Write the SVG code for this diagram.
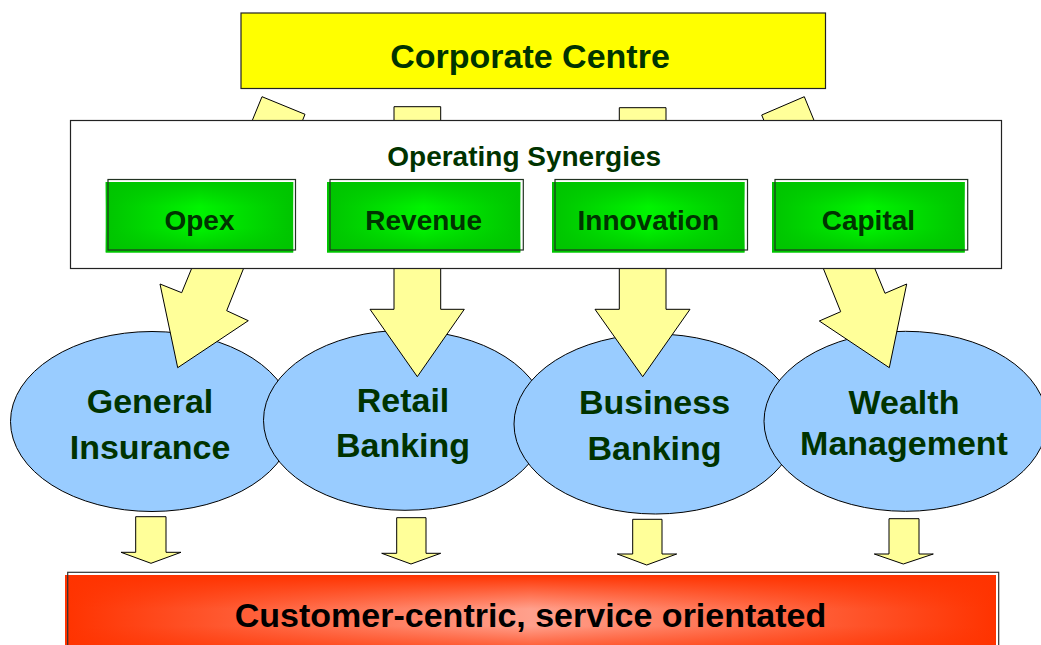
<svg xmlns="http://www.w3.org/2000/svg" width="1041" height="645" viewBox="0 0 1041 645">
  <style>
    .lbl { font-family: "Liberation Sans", Arial, sans-serif; font-weight: bold; text-anchor: middle; fill: #003300; }
    .unit { fill: #99CCFF; stroke: #000; stroke-width: 1; }
    .arrow { fill: #FFFF99; stroke: #000; stroke-width: 1; stroke-linejoin: miter; }
    .edge { fill: none; stroke: #223322; stroke-width: 1.2; }
  </style>
  <defs>
    <linearGradient id="greenH" x1="0" y1="0" x2="1" y2="0">
      <stop offset="0" stop-color="#00C400"/>
      <stop offset="0.5" stop-color="#00F400"/>
      <stop offset="1" stop-color="#00C400"/>
    </linearGradient>
    <linearGradient id="greenV" x1="0" y1="0" x2="0" y2="1">
      <stop offset="0" stop-color="#00C400" stop-opacity="0.9"/>
      <stop offset="0.35" stop-color="#00C400" stop-opacity="0"/>
      <stop offset="0.65" stop-color="#00C400" stop-opacity="0"/>
      <stop offset="1" stop-color="#00C400" stop-opacity="0.9"/>
    </linearGradient>
    <linearGradient id="redH" x1="0" y1="0" x2="1" y2="0">
      <stop offset="0" stop-color="#FF3300"/>
      <stop offset="0.5" stop-color="#FFA08C"/>
      <stop offset="1" stop-color="#FF3300"/>
    </linearGradient>
    <linearGradient id="redV" x1="0" y1="0" x2="0" y2="1">
      <stop offset="0" stop-color="#FF3300" stop-opacity="1"/>
      <stop offset="0.4" stop-color="#FF3300" stop-opacity="0"/>
      <stop offset="0.6" stop-color="#FF3300" stop-opacity="0"/>
      <stop offset="1" stop-color="#FF3300" stop-opacity="1"/>
    </linearGradient>
  </defs>

  <rect width="1041" height="645" fill="#FFFFFF"/>

  <!-- business units -->
  <g id="general-insurance">
    <ellipse class="unit" cx="152" cy="421.5" rx="141.5" ry="90"/>
    <text class="lbl" x="150" y="413.3" font-size="34">General</text>
    <text class="lbl" x="150" y="459" font-size="34">Insurance</text>
  </g>
  <g id="retail-banking">
    <ellipse class="unit" cx="405" cy="420.3" rx="141.5" ry="90"/>
    <text class="lbl" x="403" y="411.7" font-size="34">Retail</text>
    <text class="lbl" x="403" y="456.7" font-size="34">Banking</text>
  </g>
  <g id="business-banking">
    <ellipse class="unit" cx="655.5" cy="424" rx="141.5" ry="90"/>
    <text class="lbl" x="654.5" y="414" font-size="34">Business</text>
    <text class="lbl" x="654.5" y="460" font-size="34">Banking</text>
  </g>
  <g id="wealth-management">
    <ellipse class="unit" cx="905.5" cy="421.3" rx="141.5" ry="90"/>
    <text class="lbl" x="904" y="414" font-size="34">Wealth</text>
    <text class="lbl" x="904" y="455" font-size="34">Management</text>
  </g>

  <!-- block arrows -->
  <g id="connectors">
    <polygon class="arrow" points="262,96.7 305,114.3 226.7,310.7 248.3,320.7 177.7,367.7 160,284 181.7,292.7"/>
    <polygon class="arrow" points="394,106.7 440.7,106.7 440.7,309.3 464.3,309.3 417.3,376.7 370,309.3 394,309.3"/>
    <polygon class="arrow" points="619.3,107.7 666,107.7 666,309.3 690,309.3 642.7,376.7 595,309.3 619.3,309.3"/>
    <polygon class="arrow" points="804.3,96.7 885,293.3 906.7,284 889.3,367.7 819.3,321 840.7,311.7 761.7,115"/>

    <polygon class="arrow" points="135.7,516.7 166,516.7 166,552.3 181,552.3 151,563.3 121,552.3 135.7,552.3"/>
    <polygon class="arrow" points="396.7,517.7 426,517.7 426,553.3 440.7,553.3 411,564 381.7,553.3 396.7,553.3"/>
    <polygon class="arrow" points="632.7,519.3 662,519.3 662,554 676.7,554 646.7,565 617.3,554 632.7,554"/>
    <polygon class="arrow" points="889,518.7 919,518.7 919,554 933.3,554 903.3,564 874.3,554 889,554"/>
  </g>

  <!-- synergy panel -->
  <g id="operating-synergies">
    <rect x="70.5" y="120.5" width="931" height="148" fill="#FFFFFF" stroke="#222" stroke-width="1.2"/>
    <text class="lbl" x="524.2" y="166" font-size="28">Operating Synergies</text>
  </g>
  <g id="opex">
    <rect x="105.7" y="182" width="187.5" height="70.5" fill="url(#greenH)"/>
    <rect x="105.7" y="182" width="187.5" height="70.5" fill="url(#greenV)"/>
    <rect class="edge" x="108" y="179.5" width="187.5" height="70.5"/>
    <text class="lbl" x="199.5" y="230" font-size="28">Opex</text>
  </g>
  <g id="revenue">
    <rect x="327" y="182" width="193.3" height="70.5" fill="url(#greenH)"/>
    <rect x="327" y="182" width="193.3" height="70.5" fill="url(#greenV)"/>
    <rect class="edge" x="330" y="179.5" width="193.3" height="70.5"/>
    <text class="lbl" x="423.7" y="230" font-size="28">Revenue</text>
  </g>
  <g id="innovation">
    <rect x="552" y="182" width="192.5" height="70.5" fill="url(#greenH)"/>
    <rect x="552" y="182" width="192.5" height="70.5" fill="url(#greenV)"/>
    <rect class="edge" x="555" y="179.5" width="192.5" height="70.5"/>
    <text class="lbl" x="648.3" y="230" font-size="28">Innovation</text>
  </g>
  <g id="capital">
    <rect x="772" y="182" width="192.7" height="70.5" fill="url(#greenH)"/>
    <rect x="772" y="182" width="192.7" height="70.5" fill="url(#greenV)"/>
    <rect class="edge" x="775" y="179.5" width="192.7" height="70.5"/>
    <text class="lbl" x="868.4" y="230" font-size="28">Capital</text>
  </g>

  <!-- corporate centre -->
  <g id="corporate-centre">
    <rect x="241" y="13" width="584.5" height="75.5" fill="#FFFF00" stroke="#222" stroke-width="1.2"/>
    <text class="lbl" x="530" y="68.3" font-size="34">Corporate Centre</text>
  </g>

  <!-- customer bar -->
  <g id="customer-bar">
    <rect x="65" y="575" width="931" height="85" fill="url(#redH)"/>
    <rect x="65" y="575" width="931" height="85" fill="url(#redV)"/>
    <rect x="67.7" y="572.3" width="931" height="85" fill="none" stroke="#333" stroke-width="1.2"/>
    <text x="530.5" y="627" font-family="'Liberation Sans', Arial, sans-serif" font-weight="bold" font-size="34" text-anchor="middle" fill="#000000">Customer-centric, service orientated</text>
  </g>
</svg>
